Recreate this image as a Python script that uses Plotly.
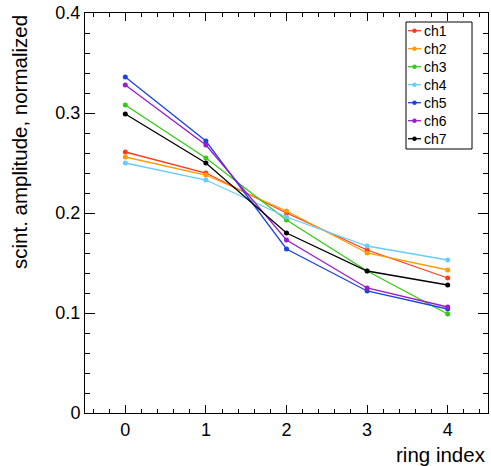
import plotly.graph_objects as go

ring_index = [0, 1, 2, 3, 4]
channels = ["ch1", "ch2", "ch3", "ch4", "ch5", "ch6", "ch7"]
ch1 = [0.261, 0.240, 0.200, 0.163, 0.135]
ch2 = [0.256, 0.238, 0.202, 0.160, 0.143]
ch3 = [0.308, 0.255, 0.193, 0.142, 0.099]
ch4 = [0.250, 0.233, 0.196, 0.167, 0.153]
ch5 = [0.336, 0.272, 0.164, 0.122, 0.104]
ch6 = [0.328, 0.268, 0.173, 0.125, 0.106]
ch7 = [0.299, 0.250, 0.180, 0.142, 0.128]
series = [ch1, ch2, ch3, ch4, ch5, ch6, ch7]
colors = ["#ff3a1a", "#ff9a00", "#33cc11", "#66ccff", "#1a44dd", "#9a1acc", "#000000"]

W, H = 491, 466
L, R, T, B = 85, 3, 13, 53
pw, ph = W - L - R, H - T - B
FONT = "Liberation Sans, Arial, Helvetica, sans-serif"

fig = go.Figure()
for name, ys, c in zip(channels, series, colors):
    fig.add_trace(go.Scatter(x=ring_index, y=ys, name=name, mode="lines+markers",
                             line=dict(color=c, width=1.3),
                             marker=dict(color=c, size=5, symbol="circle"),
                             showlegend=False))

def px(xp):
    return (xp - L) / pw

def py(yp):
    return (H - B - yp) / ph

shapes = []
annotations = []
# legend box
shapes.append(dict(type="rect", xref="paper", yref="paper",
                   x0=px(406), x1=px(472), y0=py(149), y1=py(22),
                   line=dict(color="black", width=1), fillcolor="white", layer="above"))
for i, (name, c) in enumerate(zip(channels, colors)):
    yc = py(30.7 + 18 * i)
    shapes.append(dict(type="line", xref="paper", yref="paper",
                       x0=px(408), x1=px(421), y0=yc, y1=yc,
                       line=dict(color=c, width=1.3), layer="above"))
    shapes.append(dict(type="circle", xref="paper", yref="paper",
                       xsizemode="pixel", ysizemode="pixel",
                       xanchor=px(414.5), yanchor=yc,
                       x0=-2.2, x1=2.2, y0=-2.2, y1=2.2,
                       line=dict(color=c, width=0), fillcolor=c, layer="above"))
    annotations.append(dict(text=name, xref="paper", yref="paper",
                            x=px(422), y=yc, xanchor="left", yanchor="middle",
                            showarrow=False, font=dict(family=FONT, size=14, color="black")))

annotations.append(dict(text="scint. amplitude, normalized", xref="paper", yref="paper",
                        x=0, y=1, xshift=-66, xanchor="center", yanchor="top",
                        textangle=-90, showarrow=False,
                        font=dict(family=FONT, size=20.5, color="black")))
annotations.append(dict(text="ring index", xref="paper", yref="paper",
                        x=1, y=0, yshift=-28, xanchor="right", yanchor="top",
                        showarrow=False, font=dict(family=FONT, size=20.5, color="black")))

fig.update_layout(
    width=W, height=H,
    margin=dict(l=L, r=R, t=T, b=B),
    paper_bgcolor="white", plot_bgcolor="white",
    shapes=shapes, annotations=annotations,
    font=dict(family=FONT, size=18, color="black"),
)
fig.update_xaxes(range=[-0.5, 4.5], dtick=1, tick0=0, ticks="inside", ticklen=8,
                 tickcolor="black", showline=True, linecolor="black", linewidth=1,
                 mirror="allticks", showgrid=False, zeroline=False,
                 minor=dict(dtick=0.2, tick0=0, ticks="inside", ticklen=4, tickcolor="black"),
                 tickfont=dict(family=FONT, size=18))
fig.update_yaxes(range=[0, 0.4], dtick=0.1, tick0=0, ticks="inside", ticklen=10,
                 tickcolor="black", showline=True, linecolor="black", linewidth=1,
                 mirror="allticks", showgrid=False, zeroline=False,
                 minor=dict(dtick=0.02, tick0=0, ticks="inside", ticklen=5, tickcolor="black"),
                 tickfont=dict(family=FONT, size=18))

fig.write_html("out.html")
